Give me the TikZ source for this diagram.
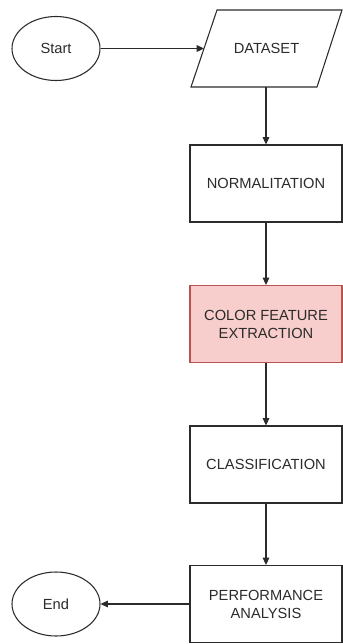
\documentclass[tikz,border=0pt]{standalone}
\usepackage{fontspec}
\setmainfont{Liberation Sans}
\usetikzlibrary{shapes.geometric,arrows.meta,calc}
\definecolor{ink}{HTML}{2B2B2B}
\definecolor{pinkfill}{HTML}{F8CECC}
\definecolor{pinkline}{HTML}{B85450}
\tikzset{
  every node/.style={font=\fontsize{11}{13.5}\selectfont, text=ink, align=center},
  flowline/.style={draw=ink, line width=0.8pt, -{Triangle[length=5.5pt,width=5pt]}},
  outline/.style={draw=ink, line width=0.8pt, line join=miter},
  terminal/.style={ellipse, outline, minimum width=66pt, minimum height=48pt, inner sep=0pt},
  process/.style={rectangle, outline, minimum width=114pt, minimum height=57.75pt, inner sep=0pt},
  highlight/.style={process, fill=pinkfill, draw=pinkline}
}
\begin{document}
\begin{tikzpicture}[x=0.75pt,y=-0.75pt]
  \useasboundingbox (0,0) rectangle (343,644);
  % parallelogram for the data input
  \coordinate (dTL) at (217,10);
  \coordinate (dTR) at (342,10);
  \coordinate (dBR) at (317,87);
  \coordinate (dBL) at (191,87);
  \draw[outline] (dTL) -- (dTR) -- (dBR) -- (dBL) -- cycle;
  \coordinate (dataL) at ($(dTL)!0.5!(dBL)$);
  \node (data) at (266.5,48.5) {DATASET};
  \coordinate (dataB) at (266,87);

  \node[terminal]  (start) at (56,48.5)  {Start};
  \node[process]   (norm)  at (266,183.5) {NORMALITATION};
  \node[highlight] (color) at (266,324)  {COLOR FEATURE\\EXTRACTION};
  \node[process]   (class) at (266,464.5) {CLASSIFICATION};
  \node[process]   (perf)  at (266,604)  {PERFORMANCE\\ANALYSIS};
  \node[terminal]  (end)   at (56,604)   {End};

  \draw[flowline] (start) -- (dataL);
  \draw[flowline] (dataB) -- (norm.north);
  \draw[flowline] (norm) -- (color);
  \draw[flowline] (color) -- (class);
  \draw[flowline] (class) -- (perf);
  \draw[flowline] (perf.west) -- (end.east);
\end{tikzpicture}
\end{document}
